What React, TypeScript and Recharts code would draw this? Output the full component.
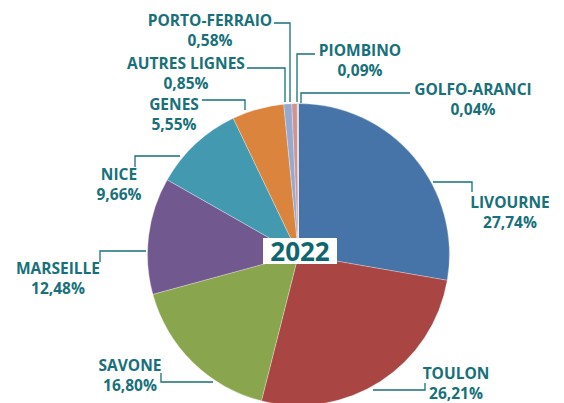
import { PieChart, Pie, Cell } from 'recharts';

const ports = ['LIVOURNE', 'TOULON', 'SAVONE', 'MARSEILLE', 'NICE', 'GENES', 'AUTRES LIGNES', 'PORTO-FERRAIO', 'PIOMBINO', 'GOLFO-ARANCI'];
const shares = [27.74, 26.21, 16.8, 12.48, 9.66, 5.55, 0.85, 0.58, 0.09, 0.04];
const shareLabels = ['27,74%', '26,21%', '16,80%', '12,48%', '9,66%', '5,55%', '0,85%', '0,58%', '0,09%', '0,04%'];
const yearLabel = '2022';

const COLORS = ['#4774a8', '#a94643', '#89a54e', '#71588f', '#4299b0', '#db843d', '#95a9d1', '#d19392', '#b9cd96', '#a99bbd'];
const TEXT = '#17707a';

// label placement: text centre (x, y) and leader polyline
const labelLayout = [
  { x: 510, y: 202, line: [[433, 182], [472, 182], [472, 192]] },
  { x: 456, y: 373, line: [[373, 390], [425, 390], [425, 383]] },
  { x: 130, y: 365, line: [[213, 382], [161, 382], [161, 373]] },
  { x: 58, y: 268, line: [[146, 251], [100, 251], [100, 262]] },
  { x: 119, y: 174, line: [[180, 156], [135, 156], [135, 167]] },
  { x: 174, y: 104, line: [[245, 110], [245, 100], [202, 100]] },
  { x: 186, y: 63, line: [[285, 102], [285, 68], [247, 68]] },
  { x: 210, y: 20, line: [[290, 102], [290, 23], [274, 23]] },
  { x: 360, y: 50, line: [[297, 102], [297, 54], [315, 54]] },
  { x: 473, y: 89, line: [[301, 103], [301, 93], [410, 93]] },
];

const data = ports.map((name, i) => ({ name, value: shares[i], pct: shareLabels[i] }));

const renderLabel = (props: any) => {
  const { index } = props;
  const l = labelLayout[index];
  const pts = l.line.map((p) => p.join(',')).join(' ');
  return (
    <g key={`lbl-${index}`}>
      <polyline points={pts} fill="none" stroke={TEXT} strokeWidth={1.3} />
      <text x={l.x} y={l.y} textAnchor="middle" dominantBaseline="central" fill={TEXT} fontSize={15.5} fontWeight={700} fontFamily="'Open Sans', sans-serif">
        {data[index].name}
      </text>
      <text x={l.x} y={l.y + 20} textAnchor="middle" dominantBaseline="central" fill={TEXT} fontSize={15.5} fontWeight={700} fontFamily="'Open Sans', sans-serif">
        {data[index].pct}
      </text>
    </g>
  );
};

export default function App() {
  return (
    <div style={{ position: 'absolute', left: 0, top: 0, width: 564, height: 403, background: '#fff', overflow: 'hidden' }}>
      <PieChart width={564} height={403} margin={{ top: 0, right: 0, bottom: 0, left: 0 }}>
        <Pie
          data={data}
          dataKey="value"
          nameKey="name"
          cx={298.5}
          cy={254.5}
          outerRadius={151}
          startAngle={90}
          endAngle={-270}
          stroke="#fff"
          strokeWidth={0.3}
          label={renderLabel}
          labelLine={false}
          isAnimationActive={false}
        >
          {data.map((d, i) => (
            <Cell key={d.name} fill={COLORS[i]} />
          ))}
        </Pie>
      </PieChart>
      <div
        style={{
          position: 'absolute',
          left: 263,
          top: 238,
          width: 74,
          height: 26,
          background: '#fff',
          color: '#0f6670',
          fontFamily: "'Open Sans', sans-serif",
          fontWeight: 700,
          fontSize: 26,
          lineHeight: '26px',
          textAlign: 'center',
        }}
      >
        {yearLabel}
      </div>
    </div>
  );
}
